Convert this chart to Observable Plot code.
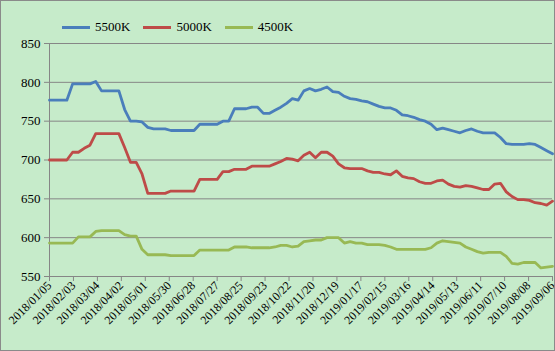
<!DOCTYPE html>
<html><head><meta charset="utf-8">
<script src="https://cdn.jsdelivr.net/npm/d3@7"></script>
<script src="https://cdn.jsdelivr.net/npm/@observablehq/plot@0.6"></script>
<style>
body{margin:0;background:#fff;}
#chart{position:relative;width:555px;height:351px;background:#C6EBCA;font-family:"Liberation Serif","Times New Roman",serif;overflow:hidden;}
#chart svg{position:absolute;left:0;top:0;}
#frame{position:absolute;left:0;top:0;width:555px;height:351px;box-sizing:border-box;border:1px solid #8a8a8a;pointer-events:none;}
#legend{position:absolute;left:62px;top:19px;display:flex;align-items:center;font-size:13px;color:#000;line-height:16px;}
.item{display:flex;align-items:center;margin-right:13px;}
.sw{width:28px;height:3px;margin-right:5px;}
</style></head>
<body>
<div id="chart"><div id="legend"></div><div id="frame"></div></div>
<script>
const seriesNames = ["5500K", "5000K", "4500K"];
const seriesColors = ["#4A7EBB", "#BE4B48", "#98B954"];
const firstDate = "2018-01-05"; // weekly observations
const tickLabels = ["2018/01/05","2018/02/03","2018/03/04","2018/04/02","2018/05/01","2018/05/30","2018/06/28","2018/07/27","2018/08/25","2018/09/23","2018/10/22","2018/11/20","2018/12/19","2019/01/17","2019/02/15","2019/03/16","2019/04/14","2019/05/13","2019/06/11","2019/07/10","2019/08/08","2019/09/06"];
const yTicks = [550, 600, 650, 700, 750, 800, 850];

const v5500 = [777,777,777,777,798,798,798,798,801,789,789,789,789,765,750,750,749,742,740,740,740,738,738,738,738,738,746,746,746,746,750,750,766,766,766,768,768,760,760,
764,768,773,779,777,789,792,789,791,794,788,787,782,779,778,776,775,772,769,767,767,764,758,757,755,752,750,746,739,741,739,737,735,738,740,737,735,735,735,729,721,720,720,720,721,720,716,712,708];
const v5000 = [700,700,700,700,710,710,715,719,734,734,734,734,734,716,697,697,682,657,657,657,657,660,660,660,660,660,675,675,675,675,685,685,688,688,688,692,692,692,692,
695,698,702,701,699,706,710,703,710,710,705,695,690,689,689,689,686,684,684,682,681,686,679,677,676,672,670,670,673,674,669,666,665,667,666,664,662,662,669,670,659,653,649,649,648,645,644,642,647];
const v4500 = [593,593,593,593,593,601,601,601,608,609,609,609,609,604,602,602,585,578,578,578,578,577,577,577,577,577,584,584,584,584,584,584,588,588,588,587,587,587,587,588,590,590,588,589,
595,596,597,597,600,600,600,593,595,593,593,591,591,591,590,588,585,585,585,585,585,585,587,593,596,595,594,593,588,585,582,580,581,581,581,576,567,566,568,568,568,561,562,563];

const parse = d3.utcParse("%Y-%m-%d");
const parseTick = d3.utcParse("%Y/%m/%d");
const start = parse(firstDate);
const seriesValues = [v5500, v5000, v4500];
const data = [];
seriesValues.forEach((arr, s) => arr.forEach((v, i) => data.push({series: seriesNames[s], date: d3.utcDay.offset(start, 7 * i), value: v})));
const tickDates = tickLabels.map(parseTick);

const plot = Plot.plot({
  width: 555, height: 351,
  marginLeft: 49, marginRight: 3, marginTop: 43, marginBottom: 75,
  style: {background: "transparent", color: "#000", fontFamily: "'Liberation Serif','Times New Roman',serif", overflow: "visible"},
  x: {type: "utc", domain: [tickDates[0], tickDates[tickDates.length - 1]]},
  y: {domain: [550, 850]},
  color: {domain: seriesNames, range: seriesColors},
  marks: [
    Plot.gridY(yTicks, {stroke: "#868686", strokeOpacity: 1, strokeWidth: 1}),
    Plot.ruleX([tickDates[0]], {stroke: "#868686", strokeWidth: 1}),
    Plot.axisY(yTicks, {tickSize: 5, tickPadding: 4, fontSize: 13, stroke: "#868686", label: null}),
    Plot.axisX(tickDates, {tickFormat: d3.utcFormat("%Y/%m/%d"), tickRotate: -45, tickSize: 5, tickPadding: 2, fontSize: 12, stroke: "#868686", label: null}),
    Plot.line(data, {x: "date", y: "value", z: "series", stroke: "series", strokeWidth: 2.8})
  ]
});
document.getElementById("chart").insertBefore(plot, document.getElementById("legend"));

const legend = document.getElementById("legend");
seriesNames.forEach((n, i) => {
  const it = document.createElement("div"); it.className = "item";
  const sw = document.createElement("div"); sw.className = "sw"; sw.style.background = seriesColors[i];
  const t = document.createElement("span"); t.textContent = n;
  it.appendChild(sw); it.appendChild(t); legend.appendChild(it);
});
</script>
</body></html>
